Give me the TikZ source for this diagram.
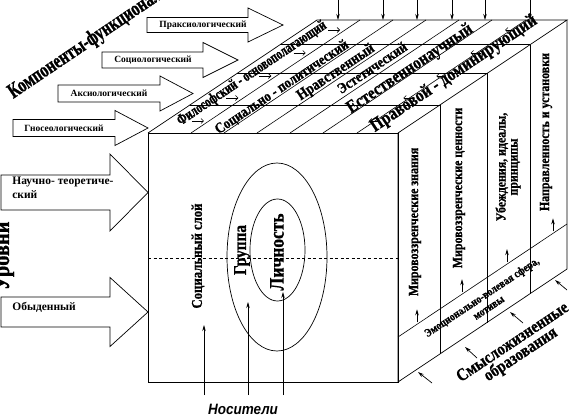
\documentclass[tikz,border=0pt]{standalone}
\usepackage{fontspec}
\setmainfont{Liberation Serif}
\newfontfamily\serifn{Liberation Serif}
\newfontfamily\serifc{Liberation Serif}[FakeStretch=0.85, BoldFeatures={FakeBold=0.8}]
\newfontfamily\serifcc{Liberation Serif}[FakeStretch=0.72, BoldFeatures={FakeBold=1}]
\newfontfamily\sansfnt{Liberation Sans}[FakeStretch=0.9]
\usetikzlibrary{arrows.meta}
\newcommand{\fsz}[1]{\fontsize{#1}{#1}\selectfont}
\newcommand{\blkarrow}[6]{%
  \draw[blockarrow] (#1,#4-#5) -- (#2,#4-#5) -- (#2,#4-#6) -- (#3,#4) -- (#2,#4+#6) -- (#2,#4+#5) -- (#1,#4+#5) -- cycle;}
\begin{document}
\begin{tikzpicture}[x=1pt,y=-1pt,line width=0.7pt,
  lbl/.style={inner sep=0pt},
  blockarrow/.style={draw, fill=white, line width=0.7pt},
  pin/.style={-{Stealth[length=6pt,width=3.5pt]}, line width=0.7pt},
  tick/.style={-{Straight Barb[length=2.5pt,width=5pt]}, line width=0.6pt},
  face/.style={line width=0.7pt},
  grid/.style={line width=0.6pt}]
\useasboundingbox (0,0) rectangle (579,417);
\clip (0,0) rectangle (579,417);

% ---------- cube corners ----------
\coordinate (FL) at (148,133);
\coordinate (FR) at (398,133);
\coordinate (BR) at (567,20);
\coordinate (BL) at (317,20);
\coordinate (DL) at (148,382);
\coordinate (DR) at (398,382);
\coordinate (DB) at (567,269);

% front face
\draw[face] (FL) rectangle (DR);
\draw[dash pattern=on 3pt off 2.5pt, line width=0.6pt] (148,258) -- (398,258);
% top face
\draw[face] (FL) -- (BL) -- (BR) -- (FR);
\foreach \xf in {191,224,257,290,323,357}
  \draw[grid] (\xf,133) -- (\xf+169,20);
\foreach \t in {0.2485,0.5266,0.781}
  \draw[grid] (148+169*\t,133-113*\t) -- (398+169*\t,133-113*\t);
% right face
\draw[face] (FR) -- (DR) -- (DB) -- (BR);
\draw[grid] (398,337) -- (567,224);
\draw[grid] (440,104.9) -- (440,353.9);
\draw[grid] (487,73.5) -- (487,322.5);
\draw[grid] (530,44.7) -- (530,293.7);

% ---------- ellipses ----------
\draw[face] (277,257) ellipse [x radius=50, y radius=94];
\draw[face] (277.5,250) ellipse [x radius=27.5, y radius=51];

% ---------- front face texts ----------
\node[lbl, font=\serifc\bfseries\fsz{15}, rotate=90] (sloj) at (198,256) {Социальный слой};
\node[lbl, font=\serifc\bfseries\fsz{18}, rotate=90] (grp) at (242,250) {Группа};
\node[lbl, font=\serifc\bfseries\fsz{20.5}, rotate=90] (lich) at (277,252) {Личность};

% Nositeli arrows
\node[font=\sansfnt\bfseries\itshape\fsz{15}, inner sep=0pt] (nos) at (243,409) {Носители};
\coordinate (n1) at (204,395); \coordinate (n1t) at (204,325);
\coordinate (n2) at (248,395); \coordinate (n2t) at (248,302);
\coordinate (n3) at (283,395); \coordinate (n3t) at (283,292);
\draw[pin] (n1) -- (n1t);
\draw[pin] (n2) -- (n2t);
\draw[pin] (n3) -- (n3t);

% ---------- top arrows ----------
\foreach \x [count=\i] in {338,383,417,452,485,530} {
  \coordinate (ta\i) at (\x,0);
  \coordinate (tb\i) at (\x,20);
  \draw[pin] (ta\i) -- (tb\i);
}

% small arrows on top face
\foreach \y in {121,98,76,53,30} {
  \draw[tick] ({180+(133-\y)*1.4956-6},\y) -- ({180+(133-\y)*1.4956+6},\y);
  \draw[tick] ({356+(133-\y)*1.4956+5},\y) -- ({356+(133-\y)*1.4956-5},\y);
}

% ---------- top face labels ----------
\node[lbl, font=\serifcc\bfseries\fsz{15.3}, rotate=33.8] (fil) at (252,73.5) {Философский - основополагающий};
\node[lbl, font=\serifc\bfseries\fsz{15}, rotate=33.8] (soc) at (282,87.5) {Социально - политический};
\node[lbl, font=\serifc\bfseries\fsz{15.5}, rotate=33.8] (nrav) at (336,72.5) {Нравственный};
\node[lbl, font=\serifc\bfseries\fsz{15}, rotate=33.8] (est) at (372,67.5) {Эстетический};
\node[lbl, font=\serifc\bfseries\fsz{18}, rotate=33.8] (estn) at (410,69) {Естественнонаучный};
\node[lbl, font=\serifc\bfseries\fsz{18.5}, rotate=33.8] (prav) at (454,74) {Правовой - доминирующий};

% ---------- right face labels ----------
\node[lbl, font=\serifc\bfseries\fsz{14}, rotate=90] (mzn) at (415,222) {Мировоззренческие знания};
\node[lbl, font=\serifc\bfseries\fsz{14}, rotate=90] (mcen) at (459,188) {Мировоззренческие ценности};
\node[lbl, font=\serifc\bfseries\fsz{14}, rotate=90, align=center] (ube) at (508,167) {Убеждения, идеалы,\\[-2pt]принципы};
\node[lbl, font=\serifc\bfseries\fsz{14}, rotate=90] (napr) at (546,132) {Направленность и установки};

% small up arrows above the emotional band
\foreach \x [count=\i] in {417,462,507,553} {
  \coordinate (ua\i) at (\x,{337-(\x-398)*0.6686-2});
  \coordinate (ub\i) at (\x,{337-(\x-398)*0.6686-15});
  \draw[pin] (ua\i) -- (ub\i);
}
\node[lbl, font=\serifc\bfseries\fsz{11.5}, rotate=33.6, align=center] (emo) at (485,302) {Эмоционально-волевая сфера,\\[1pt]мотивы};

% Smysl arrows
\foreach \xa/\ya/\xb/\yb [count=\i] in {432/383/418/372, 477/358/465/347, 523/323/510/312, 567/290/555/280} {
  \coordinate (sa\i) at (\xa,\ya);
  \coordinate (sb\i) at (\xb,\yb);
  \draw[pin] (sa\i) -- (sb\i);
}
\node[lbl, font=\serifc\bfseries\fsz{17.5}, rotate=33.6, align=center] (smysl) at (517,349) {Смысложизненные\\[-3pt]образования};

% ---------- left block arrows (components) ----------
\blkarrow{13}{115}{148}{128}{8.5}{17.5}
\blkarrow{58}{160}{193}{93.5}{8.5}{17.5}
\blkarrow{102}{203}{238}{60}{8}{17.5}
\blkarrow{147}{248}{283}{25}{7.5}{17}
\node[lbl, font=\serifn\bfseries\fsz{9.5}] (gno) at (64,128) {Гносеологический};
\node[lbl, font=\serifn\bfseries\fsz{9.5}] (aks) at (109,93.5) {Аксиологический};
\node[lbl, font=\serifn\bfseries\fsz{9.5}] (socl) at (153,60) {Социологический};
\node[lbl, font=\serifn\bfseries\fsz{9.5}] (prak) at (203,25) {Праксиологический};

\node[lbl, font=\serifcc\bfseries\fsz{21.3}, rotate=34, anchor=base west] (komp) at (13,99) {Компоненты-функциональные};

% ---------- levels ----------
\blkarrow{1}{110}{148}{192.5}{17.5}{38.5}
\blkarrow{1}{110}{148}{312}{15}{34.5}
\node[lbl, font=\serifn\bfseries\fsz{11.5}, anchor=north west, align=left] (nauch) at (12,177) {Научно- теоретиче-\\[2pt]ский};
\node[lbl, font=\serifn\bfseries\fsz{11.5}, anchor=west] (obyd) at (12,307) {Обыденный};
\node[lbl, font=\serifc\bfseries\fsz{24}, rotate=90, anchor=base] (urov) at (9,256) {Уровни};
\end{tikzpicture}
\end{document}
